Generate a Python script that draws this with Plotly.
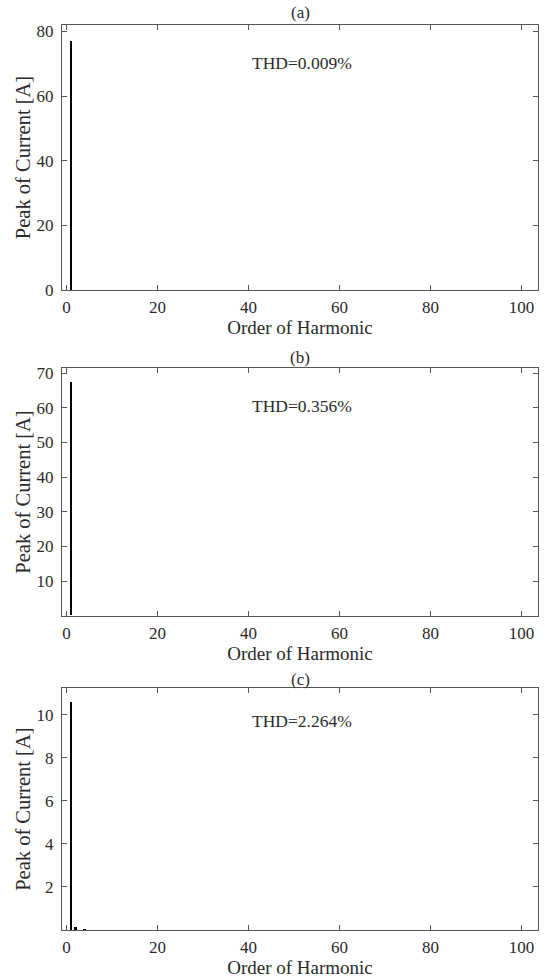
import plotly.graph_objects as go

# Data
orders_a = [1]
peaks_a = [77.0]
orders_b = [1]
peaks_b = [67.5]
orders_c = [1, 2, 4]
peaks_c = [10.6, 0.12, 0.03]

panel_labels = ["(a)", "(b)", "(c)"]
thd_labels = ["THD=0.009%", "THD=0.356%", "THD=2.264%"]
x_ticks = [0, 20, 40, 60, 80, 100]
y_ticks_a = [0, 20, 40, 60, 80]
y_ticks_b = [10, 20, 30, 40, 50, 60, 70]
y_ticks_c = [2, 4, 6, 8, 10]
y_ranges = [[0, 82], [0, 71.4], [0, 11.24]]
x_range = [-1.0, 103.6]

W, H = 545, 979
FONT = "Liberation Serif, Times New Roman, serif"
TXT = "#2a2a2a"
AX = "#555555"

# pixel layout (window coordinates)
left_px, right_px = 62, 538
panels_px = [(25, 290), (368.3, 615.7), (688.3, 930)]
title_y_px = [13, 357, 679]
thd_y_px = [63, 406, 721]


def px_x(p):
    return min(1.0, max(0.0, p / W))


def px_y(p):
    return min(1.0, max(0.0, 1 - p / H))


fig = go.Figure()
series = [(orders_a, peaks_a), (orders_b, peaks_b), (orders_c, peaks_c)]
yticks = [y_ticks_a, y_ticks_b, y_ticks_c]

for i, (xs, ys) in enumerate(series):
    sfx = "" if i == 0 else str(i + 1)
    fig.add_trace(go.Bar(x=xs, y=ys, width=0.6, marker=dict(color="black", line=dict(width=0)),
                         xaxis="x" + sfx, yaxis="y" + sfx, showlegend=False))
    top, bot = panels_px[i]
    common = dict(showline=True, linecolor=AX, linewidth=1, mirror="ticks", ticks="inside",
                  ticklen=5, tickcolor=AX, showgrid=False, zeroline=False, automargin=False,
                  tickfont=dict(family=FONT, size=17, color=TXT))
    fig.update_layout(**{
        "xaxis" + sfx: dict(domain=[px_x(left_px), px_x(right_px)], range=x_range,
                            tickvals=x_ticks, anchor="y" + sfx, ticklabelstandoff=2,
                            title=dict(text="Order of Harmonic", standoff=3,
                                       font=dict(family=FONT, size=19, color=TXT)),
                            **common),
        "yaxis" + sfx: dict(domain=[px_y(bot), px_y(top)], range=y_ranges[i],
                            tickvals=yticks[i], anchor="x" + sfx, ticklabelstandoff=4,
                            title=dict(text="Peak of Current [A]", standoff=0,
                                       font=dict(family=FONT, size=20.5, color=TXT)),
                            **common),
    })
    fig.add_annotation(text=panel_labels[i], xref="paper", yref="paper",
                       x=px_x((left_px + right_px) / 2), y=px_y(title_y_px[i]),
                       xanchor="center", yanchor="middle", showarrow=False,
                       font=dict(family=FONT, size=17, color=TXT))
    fig.add_annotation(text=thd_labels[i], xref="paper", yref="paper",
                       x=px_x(301.7), y=px_y(thd_y_px[i]),
                       xanchor="center", yanchor="middle", showarrow=False,
                       font=dict(family=FONT, size=17.5, color=TXT))

fig.update_layout(width=W, height=H, margin=dict(l=0, r=0, t=0, b=0, autoexpand=False),
                  paper_bgcolor="white", plot_bgcolor="white", bargap=0)

fig.write_html("out.html", config={"displayModeBar": False},
               post_script="document.body.style.margin='0';document.body.style.overflow='hidden';")
